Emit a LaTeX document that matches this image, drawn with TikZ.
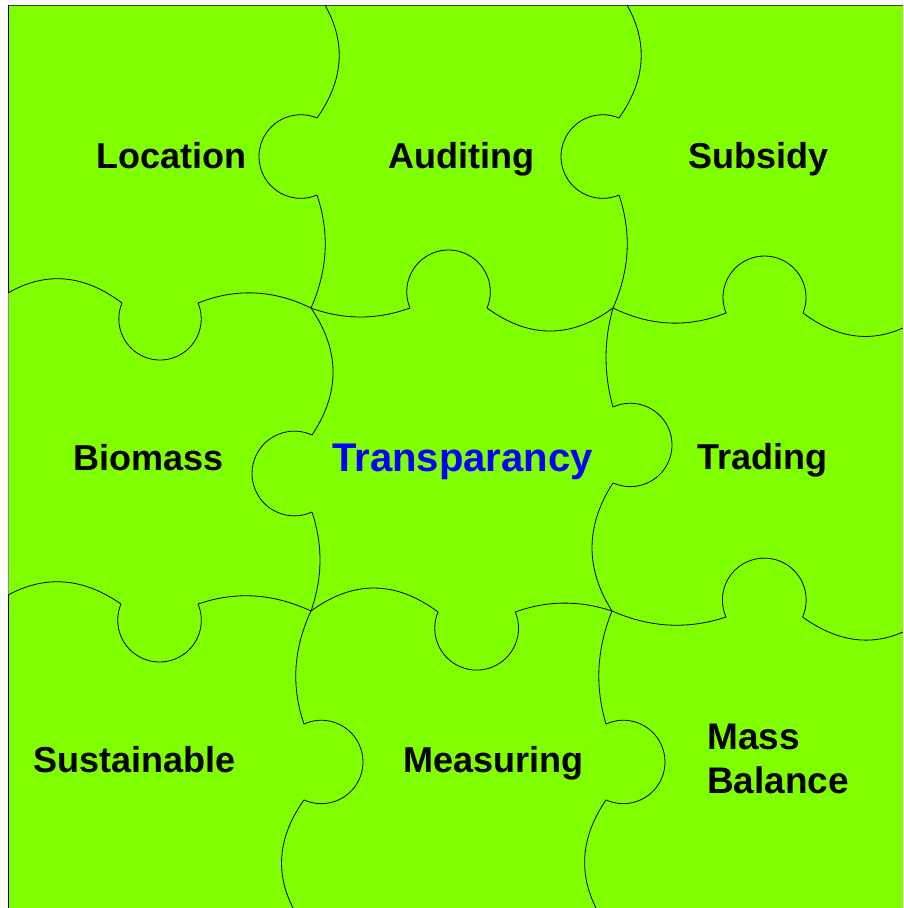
\documentclass[tikz,border=0pt]{standalone}
\usepackage{fontspec}
\setmainfont{Liberation Sans}
\definecolor{puzzlegreen}{RGB}{128,255,0}

\begin{document}
\begin{tikzpicture}[x=1pt, y=1pt, yscale=-1,
  seam/.style={draw=black, line width=0.8pt, line join=round},
  piecetext/.style={font=\fontsize{36}{44}\selectfont\bfseries, inner sep=0pt, anchor=base}]
  \useasboundingbox (0,0) rectangle (903,908);
  \fill[white] (0,0) rectangle (903,908);
  \fill[puzzlegreen] (8,5) rectangle (903,908);
  \draw[black!75, line width=1.4pt] (8,5.5) -- (903,5.5);
  \draw[black, line width=0.9pt] (8.3,5) -- (8.3,293);
  \draw[black!45, line width=0.9pt] (8.3,293) -- (8.3,595);
  \draw[black, line width=0.9pt] (8.3,595) -- (8.3,908);
  \draw[seam] (325,5) .. controls (346.3,42.7) and (343.7,80.3) .. (317,118)
    arc[start angle=-67.2, end angle=-292.8, radius=41.8]
    .. controls (329.7,232.7) and (327.7,270.3) .. (311,308);
  \draw[seam] (627,5) .. controls (648.3,42.7) and (645.7,80.3) .. (619,118)
    arc[start angle=-67.2, end angle=-292.8, radius=41.8]
    .. controls (631.7,232.7) and (629.7,270.3) .. (613,308);
  \draw[seam] (311,308) .. controls (340,350.3) and (340.4,392.7) .. (312,435)
    arc[start angle=-65.4, end angle=-294.6, radius=42.35]
    .. controls (323,545) and (322.6,578) .. (311,611);
  \draw[seam] (613,308) .. controls (603.7,341) and (603.7,374) .. (613,407)
    arc[start angle=-114.5, end angle=114.5, radius=41.7]
    .. controls (585.4,525.7) and (585,568.3) .. (612,611);
  \draw[seam] (311,611) .. controls (293.4,648.7) and (291,686.3) .. (304,724)
    arc[start angle=-114.5, end angle=114.5, radius=41.7]
    .. controls (278.3,836) and (274.7,872) .. (293,908);
  \draw[seam] (612,611) .. controls (596.7,648.7) and (594.7,686.3) .. (606,724)
    arc[start angle=-114.5, end angle=114.5, radius=41.7]
    .. controls (581.4,836) and (578,872) .. (596,908);
  \draw[seam] (8,293) .. controls (46,271) and (84,274.4) .. (122,303)
    arc[start angle=202.6, end angle=-22.6, radius=41.2]
    .. controls (235.7,288) and (273.3,289.6) .. (311,308);
  \draw[seam] (311,308) .. controls (344,320) and (377,320) .. (410,308)
    arc[start angle=157.2, end angle=382.8, radius=41.8]
    .. controls (529,338.7) and (571,338.7) .. (613,308);
  \draw[seam] (613,308) .. controls (650.7,326.4) and (688.3,328) .. (726,313)
    arc[start angle=158.1, end angle=381.9, radius=41.5]
    .. controls (836.3,338) and (869.7,343) .. (903,328);
  \draw[seam] (8,595) .. controls (45.7,574.7) and (83.3,577.7) .. (121,604)
    arc[start angle=202.8, end angle=-22.8, radius=41.8]
    .. controls (235.7,591) and (273.3,593.4) .. (311,611);
  \draw[seam] (311,611) .. controls (353.3,580) and (395.7,580.4) .. (438,612)
    arc[start angle=202.7, end angle=-22.7, radius=41.9]
    .. controls (547.3,600.3) and (579.7,600.3) .. (612,611);
  \draw[seam] (612,611) .. controls (650,627.7) and (688,629.7) .. (726,617)
    arc[start angle=156.1, end angle=383.9, radius=41.9]
    .. controls (836.3,641.3) and (869.7,646.7) .. (903,632);
  \node[piecetext] (location) at (171.5,168) {Location};
  \node[piecetext] (auditing) at (461.5,168) {Auditing};
  \node[piecetext] (subsidy) at (758.5,168) {Subsidy};
  \node[piecetext] (biomass) at (148.5,470) {Biomass};
  \node[piecetext, text=blue, font=\fontsize{40}{48}\selectfont\bfseries] (transparancy) at (462.5,471) {Transparancy};
  \node[piecetext] (trading) at (762.5,469) {Trading};
  \node[piecetext] (sustainable) at (134.5,772) {Sustainable};
  \node[piecetext] (measuring) at (493.5,772) {Measuring};
  \node[piecetext, anchor=north west, align=left, font=\fontsize{37}{44}\selectfont\bfseries] (massbalance) at (707,724) {Mass\\Balance};
\end{tikzpicture}
\end{document}
